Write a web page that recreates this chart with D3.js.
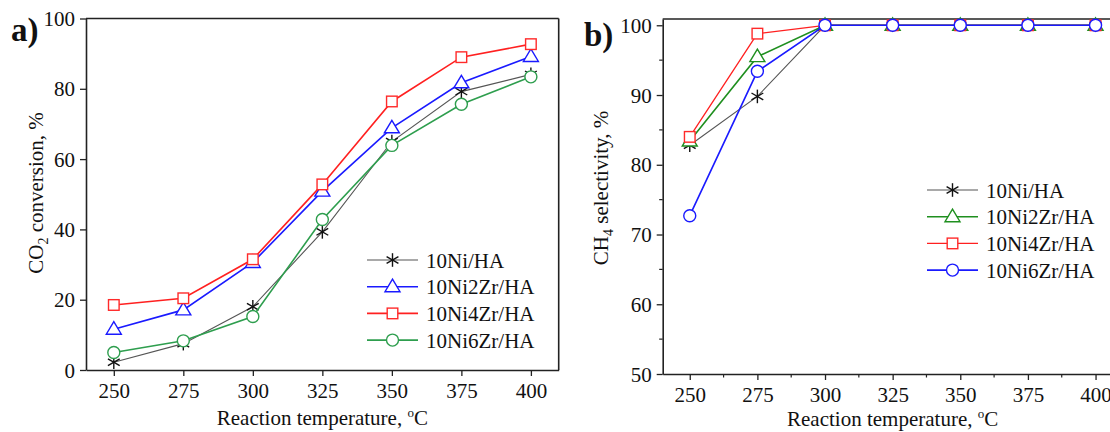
<!DOCTYPE html>
<html>
<head>
<meta charset="utf-8">
<script src="https://cdn.jsdelivr.net/npm/d3@7"></script>
<style>
  html, body { margin: 0; padding: 0; background: #ffffff; }
  svg { display: block; }
  text { font-family: "Liberation Serif", "Times New Roman", serif; fill: #111; }
</style>
</head>
<body>
<svg id="chart" width="1110" height="432" font-family="Liberation Serif, serif"></svg>
<script>
// Reaction temperatures (°C)
const temps = [250, 275, 300, 325, 350, 375, 400];
const seriesNames = ["10Ni/HA", "10Ni2Zr/HA", "10Ni4Zr/HA", "10Ni6Zr/HA"];

// CO2 conversion, %
const convNi    = [2.2, 7.5, 18.0, 39.3, 65.0, 79.2, 84.1];
const convNi2Zr = [11.6, 17.1, 30.6, 50.9, 68.9, 81.7, 89.2];
const convNi4Zr = [18.5, 20.4, 31.5, 52.8, 76.4, 89.0, 92.7];
const convNi6Zr = [5.0, 8.3, 15.2, 42.8, 63.9, 75.6, 83.4];

// CH4 selectivity, %
const selNi    = [82.8, 89.8, 100, 100, 100, 100, 100];
const selNi2Zr = [83.4, 95.5, 100, 100, 100, 100, 100];
const selNi4Zr = [84.0, 98.8, 100, 100, 100, 100, 100];
const selNi6Zr = [72.7, 93.4, 100, 100, 100, 100, 100];

const convTicks = [0, 20, 40, 60, 80, 100];
const selTicks = [50, 60, 70, 80, 90, 100];
const selMinor = [55, 65, 75, 85, 95];
const tempMinor = [262.5, 287.5, 312.5, 337.5, 362.5, 387.5];

const svg = d3.select("#chart");
const serif = '"Liberation Serif", "Times New Roman", serif';

function marker(g, shape, cx, cy, color) {
  if (shape === "star") {
    const r = 6.8;
    [90, 30, -30].forEach(a => {
      const t = a * Math.PI / 180;
      g.append("line")
        .attr("x1", cx - r * Math.cos(t)).attr("y1", cy - r * Math.sin(t))
        .attr("x2", cx + r * Math.cos(t)).attr("y2", cy + r * Math.sin(t))
        .attr("stroke", "#111").attr("stroke-width", 1.4);
    });
  } else if (shape === "triangle") {
    g.append("path")
      .attr("d", `M${cx},${cy - 7.5}L${cx + 7.5},${cy + 5}L${cx - 7.5},${cy + 5}Z`)
      .attr("fill", "#fff").attr("stroke", color).attr("stroke-width", 1.4);
  } else if (shape === "square") {
    g.append("rect")
      .attr("x", cx - 5.3).attr("y", cy - 5.3).attr("width", 10.6).attr("height", 10.6)
      .attr("fill", "#fff").attr("stroke", color).attr("stroke-width", 1.4);
  } else {
    g.append("circle")
      .attr("cx", cx).attr("cy", cy).attr("r", 6)
      .attr("fill", "#fff").attr("stroke", color).attr("stroke-width", 1.4);
  }
}

function panel(cfg) {
  const g = svg.append("g");
  const x = d3.scaleLinear().domain([240, 410]).range(cfg.xRange);
  const y = d3.scaleLinear().domain(cfg.yDomain).range(cfg.yRange);
  const [x0, x1] = cfg.xRange;
  const [yb, yt] = cfg.yRange;

  // frame (top & right)
  g.append("line").attr("x1", x0).attr("x2", x1).attr("y1", yt).attr("y2", yt)
    .attr("stroke", "#222").attr("stroke-width", 1.6);
  g.append("line").attr("x1", x1).attr("x2", x1).attr("y1", yt).attr("y2", yb)
    .attr("stroke", "#222").attr("stroke-width", 1.6);

  const xAxis = g.append("g").attr("transform", `translate(0,${yb})`)
    .call(d3.axisBottom(x).tickValues(temps).tickSize(6).tickPadding(7).tickSizeOuter(0).tickFormat(d3.format("d")));
  const yAxis = g.append("g").attr("transform", `translate(${x0},0)`)
    .call(d3.axisLeft(y).tickValues(cfg.yTicks).tickSize(6).tickPadding(5).tickSizeOuter(0).tickFormat(d3.format("d")));
  [xAxis, yAxis].forEach(a => {
    a.attr("font-family", serif).attr("font-size", 21);
    a.select(".domain").attr("stroke", "#222").attr("stroke-width", 1.6);
    a.selectAll(".tick line").attr("stroke", "#222").attr("stroke-width", 1.3);
    a.selectAll(".tick text").attr("font-size", 21).attr("fill", "#111")
      .style("font-family", serif);
  });
  yAxis.selectAll(".tick text").attr("dy", "0.34em");

  if (cfg.minor) {
    g.selectAll(null).data(tempMinor).enter().append("line")
      .attr("x1", d => x(d)).attr("x2", d => x(d)).attr("y1", yb).attr("y2", yb + 3.5)
      .attr("stroke", "#222").attr("stroke-width", 1.2);
    g.selectAll(null).data(selMinor).enter().append("line")
      .attr("y1", d => y(d)).attr("y2", d => y(d)).attr("x1", x0).attr("x2", x0 - 3.5)
      .attr("stroke", "#222").attr("stroke-width", 1.2);
  }

  // series
  const line = d3.line().x((d, i) => x(temps[i])).y(d => y(d));
  cfg.series.forEach(s => {
    const sg = g.append("g");
    sg.append("path").datum(s.values).attr("d", line)
      .attr("fill", "none").attr("stroke", s.line).attr("stroke-width", s.width);
    s.values.forEach((v, i) => marker(sg, s.shape, x(temps[i]), y(v), s.color));
  });

  // legend
  const lg = g.append("g");
  cfg.series.forEach((s, i) => {
    const ly = cfg.legend.y + i * cfg.legend.dy;
    lg.append("line").attr("x1", cfg.legend.x).attr("x2", cfg.legend.x + 51)
      .attr("y1", ly).attr("y2", ly).attr("stroke", s.line).attr("stroke-width", s.width);
    marker(lg, s.shape, cfg.legend.x + 25.5, ly, s.color);
    lg.append("text").attr("x", cfg.legend.x + 59).attr("y", ly + 7.5)
      .attr("font-size", 21).style("font-family", serif).text(s.name);
  });

  // axis titles
  const xt = g.append("text").attr("x", (x0 + x1) / 2).attr("y", cfg.xTitleY)
    .attr("text-anchor", "middle").attr("font-size", 21).style("font-family", serif);
  xt.append("tspan").text("Reaction temperature, ");
  xt.append("tspan").attr("font-size", 13).attr("dy", -8).text("o");
  xt.append("tspan").attr("dy", 8).text("C");

  const yt2 = g.append("text")
    .attr("transform", `translate(${cfg.yTitleX},${cfg.yTitleY}) rotate(-90)`)
    .attr("text-anchor", "middle").attr("font-size", 21).style("font-family", serif);
  yt2.append("tspan").text(cfg.yTitle[0]);
  yt2.append("tspan").attr("font-size", 14).attr("dy", 5).text(cfg.yTitle[1]);
  yt2.append("tspan").attr("dy", -5).text(cfg.yTitle[2]);

  g.append("text").attr("x", cfg.tag.x).attr("y", cfg.tag.y).style("font-family", serif)
    .attr("font-size", 33).attr("font-weight", "bold").text(cfg.tag.text);
}

const black = "#555555";

// a) CO2 conversion
const aSeries = [
  { name: seriesNames[0], values: convNi,    shape: "star",     color: "#111",    line: black,     width: 1.1 },
  { name: seriesNames[1], values: convNi2Zr, shape: "triangle", color: "#1a1aff", line: "#1a1aff", width: 1.6 },
  { name: seriesNames[2], values: convNi4Zr, shape: "square",   color: "#ff2a2a", line: "#ff2020", width: 1.6 },
  { name: seriesNames[3], values: convNi6Zr, shape: "circle",   color: "#2e9e4e", line: "#2e9e4e", width: 1.6 }
];
panel({
  xRange: [86, 558.7], yDomain: [0, 100], yRange: [370, 18.5], yTicks: convTicks,
  minor: false, series: aSeries,
  legend: { x: 367, y: 260, dy: 26.7 },
  xTitleY: 425, yTitleX: 43, yTitleY: 193, yTitle: ["CO", "2", " conversion, %"],
  tag: { x: 11, y: 41, text: "a)" }
});

// b) CH4 selectivity
const bSeries = [
  { name: seriesNames[0], values: selNi,    shape: "star",     color: "#111",    line: black,     width: 1.1 },
  { name: seriesNames[1], values: selNi2Zr, shape: "triangle", color: "#1f8f1f", line: "#1f8f1f", width: 1.6 },
  { name: seriesNames[2], values: selNi4Zr, shape: "square",   color: "#ff2a2a", line: "#ff2020", width: 1.3 },
  { name: seriesNames[3], values: selNi6Zr, shape: "circle",   color: "#1a1aff", line: "#1a1aff", width: 1.6 }
];
panel({
  xRange: [662.7, 1122.6], yDomain: [50, 100.9], yRange: [374, 19], yTicks: selTicks,
  minor: true, series: bSeries,
  legend: { x: 927, y: 190, dy: 26.7 },
  xTitleY: 426, yTitleX: 608, yTitleY: 188, yTitle: ["CH", "4", " selectivity, %"],
  tag: { x: 584, y: 46, text: "b)" }
});
</script>
</body>
</html>
